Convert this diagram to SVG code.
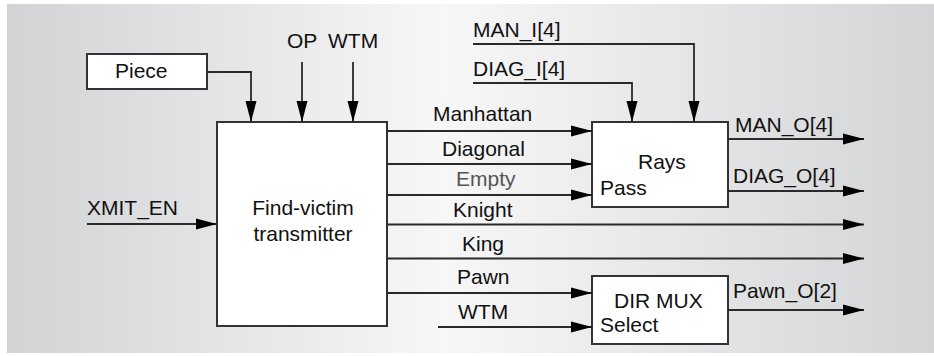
<svg xmlns="http://www.w3.org/2000/svg" width="934" height="356" viewBox="0 0 934 356">
  <defs>
    <linearGradient id="panelFill" x1="0" y1="0" x2="1" y2="0">
      <stop offset="0" stop-color="#d2d3d5"/>
      <stop offset="0.47" stop-color="#f7f7f7"/>
      <stop offset="1" stop-color="#d3d4d6"/>
    </linearGradient>
    <marker id="arrow" markerUnits="userSpaceOnUse" markerWidth="21" markerHeight="12" refX="21" refY="6" orient="auto">
      <path d="M0,0.5 L21,6 L0,11.5 Z" fill="#000"/>
    </marker>
    <style>
      .box { fill: #fff; stroke: #333; stroke-width: 2; }
      .wire { fill: none; stroke: #2a2a2a; stroke-width: 1.8; }
      .arr { marker-end: url(#arrow); }
      text { font-family: "Liberation Sans", Arial, sans-serif; font-size: 21px; fill: #111; }
      .dim { fill: #555; }
      .mid { text-anchor: middle; }
    </style>
  </defs>

  <!-- background panel -->
  <rect x="7" y="4" width="927" height="349" fill="url(#panelFill)"/>

  <!-- blocks -->
  <g id="piece">
    <rect class="box" x="87" y="54" width="120" height="35"/>
    <text x="115" y="78">Piece</text>
  </g>
  <g id="find-victim">
    <rect class="box" x="217" y="122" width="170" height="204"/>
    <text class="mid" x="303" y="215">Find-victim</text>
    <text class="mid" x="303" y="241">transmitter</text>
  </g>
  <g id="rays-pass">
    <rect class="box" x="592" y="122" width="136" height="85"/>
    <text x="638" y="169">Rays</text>
    <text x="600" y="195">Pass</text>
  </g>
  <g id="dir-mux">
    <rect class="box" x="592" y="276" width="136" height="68"/>
    <text x="614" y="308">DIR MUX</text>
    <text x="600" y="332">Select</text>
  </g>

  <!-- signal wires -->
  <g id="connectors">
    <path class="wire arr" d="M207,72 H251 V122"/>
    <path class="wire arr" d="M302,62 V122"/>
    <path class="wire arr" d="M353,62 V122"/>
    <path class="wire arr" d="M87,224 H217"/>
    <path class="wire arr" d="M387,131 H592"/>
    <path class="wire arr" d="M387,164 H592"/>
    <path class="wire arr" d="M387,195 H592"/>
    <path class="wire arr" d="M387,224.5 H864"/>
    <path class="wire arr" d="M387,258.5 H864"/>
    <path class="wire arr" d="M387,293 H592"/>
    <path class="wire arr" d="M438,327 H592"/>
    <path class="wire arr" d="M473,44 H694 V122"/>
    <path class="wire arr" d="M473,83 H632 V122"/>
    <path class="wire arr" d="M728,139 H864"/>
    <path class="wire arr" d="M728,191 H864"/>
    <path class="wire arr" d="M728,310 H864"/>
  </g>

  <!-- signal labels -->
  <g id="labels">
    <text x="287" y="48">OP</text>
    <text x="328" y="48">WTM</text>
    <text x="87" y="215">XMIT_EN</text>
    <text x="433" y="121">Manhattan</text>
    <text x="442" y="156">Diagonal</text>
    <text class="dim" x="456" y="186">Empty</text>
    <text x="453" y="217">Knight</text>
    <text x="462" y="251">King</text>
    <text x="457" y="284">Pawn</text>
    <text x="458" y="319">WTM</text>
    <text x="473" y="37">MAN_I[4]</text>
    <text x="473" y="76">DIAG_I[4]</text>
    <text x="735" y="132">MAN_O[4]</text>
    <text x="733" y="183">DIAG_O[4]</text>
    <text x="733" y="298">Pawn_O[2]</text>
  </g>
</svg>
